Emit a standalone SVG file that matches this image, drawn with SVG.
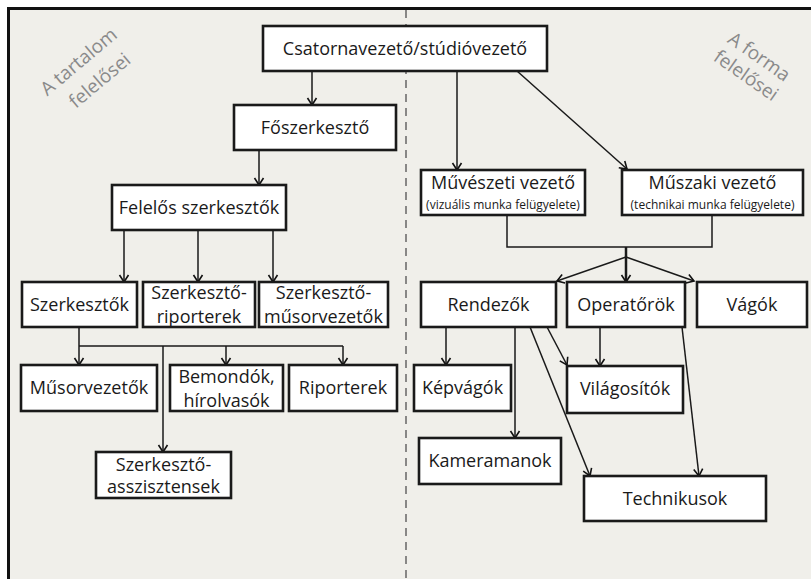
<svg xmlns="http://www.w3.org/2000/svg" width="811" height="579" viewBox="0 0 811 579">
<defs>
<marker id="ah" markerUnits="userSpaceOnUse" markerWidth="12" markerHeight="12" refX="8" refY="5" orient="auto" viewBox="0 0 12 10">
<path d="M1,0.5 L8,5 L1,9.5" fill="none" stroke="#111" stroke-width="1.6"/>
</marker>
<style>
.box{fill:#fff;stroke:#1a1a1a;stroke-width:2.6}
.t{font-family:"Open Sans","Noto Sans","Liberation Sans",sans-serif;font-size:18px;fill:#1a1a1a;text-anchor:middle}
.s{font-family:"Open Sans","Noto Sans","Liberation Sans",sans-serif;font-size:12px;fill:#1a1a1a;text-anchor:middle}
.g{font-family:"Open Sans","Noto Sans","Liberation Sans",sans-serif;font-size:19px;fill:#8a8a8a;text-anchor:middle}
.c{fill:none;stroke:#1a1a1a;stroke-width:1.5}
.a{marker-end:url(#ah)}
</style>
</defs>
<rect x="0" y="0" width="811" height="579" fill="#fff"/>
<rect x="8" y="8" width="803" height="571" fill="#f0efea"/>
<path d="M8.5,579 V8.5 H811" fill="none" stroke="#111" stroke-width="3"/>
<line x1="406" y1="10" x2="406" y2="579" stroke="#666" stroke-width="1.5" stroke-dasharray="8,6"/>
<g id="label-left" transform="translate(79,62) rotate(-40)">
<text class="g" x="0" y="6">A tartalom</text>
<text class="g" x="4" y="34">felelősei</text>
</g>
<g id="label-right" transform="translate(759,57) rotate(35)">
<text class="g" x="0" y="6">A forma</text>
<text class="g" x="0" y="29">felelősei</text>
</g>
<g id="connectors">
<path class="c a" d="M312,71 V105"/>
<path class="c a" d="M259,150 V185"/>
<path class="c a" d="M124,230 V282"/>
<path class="c a" d="M198,230 V282"/>
<path class="c a" d="M273,230 V282"/>
<path class="c" d="M79,327 V346 M79,346 H343"/>
<path class="c a" d="M79,346 V365"/>
<path class="c a" d="M226,346 V365"/>
<path class="c a" d="M343,346 V365"/>
<path class="c a" d="M163,346 V452"/>
<path class="c a" d="M457,71 V170"/>
<path class="c a" d="M517,71 L627,169"/>
<path class="c" d="M507,215 V247 H712 V215"/>
<path class="c a" d="M626,247 V282" style="stroke-width:2.5"/>
<path class="c a" d="M626,257 L557,281"/>
<path class="c a" d="M626,257 L694,281"/>
<path class="c a" d="M446,327 V365"/>
<path class="c a" d="M515,327 V438"/>
<path class="c a" d="M530,327 L590,476"/>
<path class="c a" d="M547,327 L567,365"/>
<path class="c a" d="M600,327 V366"/>
<path class="c a" d="M682,327 L699,476"/>
</g>
<g id="n-csatorna"><rect class="box" x="263" y="26" width="284" height="45"/><text class="t" x="405" y="55">Csatornavezető/stúdióvezető</text></g>
<g id="n-foszerk"><rect class="box" x="234" y="105" width="162" height="45"/><text class="t" x="315" y="134">Főszerkesztő</text></g>
<g id="n-felelos"><rect class="box" x="112" y="185" width="174" height="45"/><text class="t" x="199" y="214">Felelős szerkesztők</text></g>
<g id="n-szerkesztok"><rect class="box" x="22" y="282" width="115" height="45"/><text class="t" x="79.5" y="311">Szerkesztők</text></g>
<g id="n-szriporterek"><rect class="box" x="143" y="282" width="112" height="45"/><text class="t" x="199" y="299">Szerkesztő-</text><text class="t" x="199" y="323">riporterek</text></g>
<g id="n-szmusorvez"><rect class="box" x="259" y="282" width="129" height="45"/><text class="t" x="323.5" y="299">Szerkesztő-</text><text class="t" x="323.5" y="323">műsorvezetők</text></g>
<g id="n-musorvezetok"><rect class="box" x="21" y="365" width="136" height="46"/><text class="t" x="89" y="394">Műsorvezetők</text></g>
<g id="n-bemondok"><rect class="box" x="170" y="365" width="113" height="46"/><text class="t" x="226.5" y="383">Bemondók,</text><text class="t" x="226.5" y="407">hírolvasók</text></g>
<g id="n-riporterek"><rect class="box" x="289" y="365" width="108" height="46"/><text class="t" x="343" y="394">Riporterek</text></g>
<g id="n-szasszisztensek"><rect class="box" x="96" y="452" width="135" height="46"/><text class="t" x="163.5" y="471">Szerkesztő-</text><text class="t" x="163.5" y="493">asszisztensek</text></g>
<g id="n-muveszeti"><rect class="box" x="421" y="170" width="164" height="45"/><text class="t" x="503" y="189">Művészeti vezető</text><text class="s" x="503" y="209">(vizuális munka felügyelete)</text></g>
<g id="n-muszaki"><rect class="box" x="622" y="170" width="181" height="45"/><text class="t" x="712.5" y="189">Műszaki vezető</text><text class="s" x="712.5" y="209">(technikai munka felügyelete)</text></g>
<g id="n-rendezok"><rect class="box" x="421" y="282" width="135" height="45"/><text class="t" x="488.5" y="311">Rendezők</text></g>
<g id="n-operatorok"><rect class="box" x="567" y="282" width="118" height="45"/><text class="t" x="626" y="311">Operatőrök</text></g>
<g id="n-vagok"><rect class="box" x="697" y="282" width="110" height="45"/><text class="t" x="752" y="311">Vágók</text></g>
<g id="n-kepvagok"><rect class="box" x="414" y="365" width="97" height="46"/><text class="t" x="462.5" y="394">Képvágók</text></g>
<g id="n-vilagositok"><rect class="box" x="567" y="366" width="116" height="47"/><text class="t" x="625" y="395">Világosítók</text></g>
<g id="n-kameramanok"><rect class="box" x="419" y="438" width="142" height="46"/><text class="t" x="490" y="467">Kameramanok</text></g>
<g id="n-technikusok"><rect class="box" x="584" y="476" width="182" height="45"/><text class="t" x="675" y="505">Technikusok</text></g>
</svg>
